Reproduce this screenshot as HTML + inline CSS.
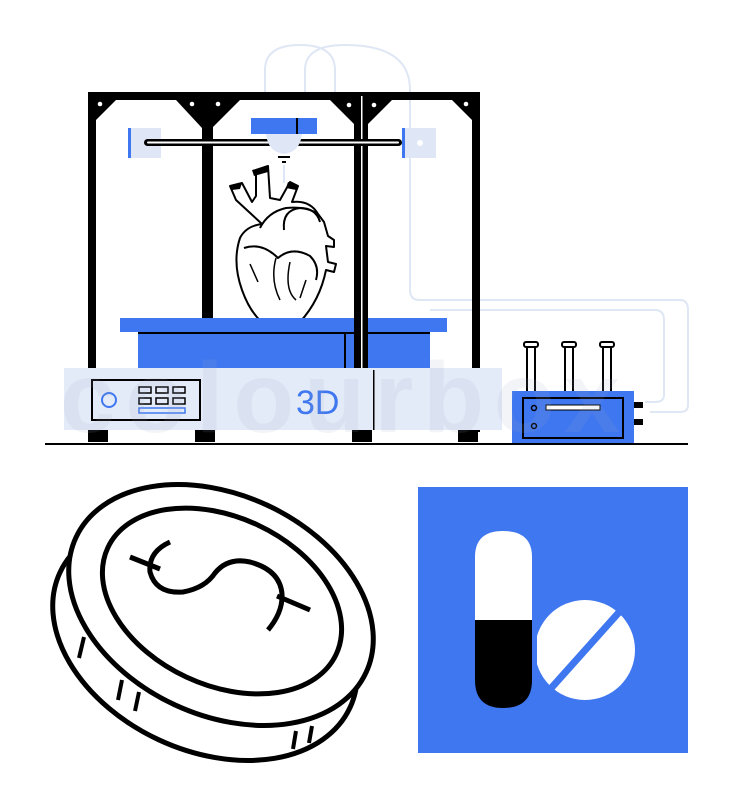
<!DOCTYPE html>
<html><head><meta charset="utf-8"><style>
html,body{margin:0;padding:0;background:#fff;width:735px;height:800px;overflow:hidden}
svg{display:block}
</style></head><body>
<svg width="735" height="800" viewBox="0 0 735 800" xmlns="http://www.w3.org/2000/svg">
<g fill="none" stroke="#dfe7f5" stroke-width="2">
<path d="M265 100 V70 Q265 45 300 45 Q335 45 335 70 V100"/>
<path d="M305 100 V70 Q305 45 345 45 Q410 45 410 90 V290 Q410 300 420 300 H680 Q688 300 688 310 V405 Q688 412 680 412 H650"/>
<path d="M430 310 H655 Q664 310 664 320 V395 Q664 402 655 402 H645"/>
</g>
<g fill="#000">
<rect x="88" y="92" width="392" height="8"/>
<rect x="88" y="92" width="8" height="340"/>
<rect x="472" y="92" width="8" height="340"/>
<rect x="202" y="100" width="11" height="230"/>
<rect x="354" y="92" width="14" height="280"/>
<polygon points="96,100 116,100 96,120"/>
<polygon points="472,100 452,100 472,120"/>
<polygon points="176,100 240,100 212,128 202,128"/>
<polygon points="330,100 354,100 354,124"/>
<polygon points="368,100 392,100 368,124"/>
</g>
<rect x="361" y="96" width="1.5" height="340" fill="#fff"/>
<g fill="#fff">
<circle cx="100" cy="104" r="2.3"/><circle cx="192" cy="104" r="2.3"/><circle cx="218" cy="104" r="2.3"/>
<circle cx="349" cy="105" r="2.3"/><circle cx="374" cy="105" r="2.3"/><circle cx="466" cy="104" r="2.3"/>
</g>
<rect x="128" y="128" width="33" height="30" fill="#dfe7f7"/>
<rect x="128" y="128" width="3" height="30" fill="#3f77f0"/>
<rect x="402" y="128" width="34" height="30" fill="#dfe7f7"/>
<rect x="402" y="128" width="3" height="30" fill="#3f77f0"/>
<circle cx="420" cy="143" r="3" fill="#fff"/>
<rect x="144" y="139" width="258" height="7" rx="3.5" fill="#000"/>
<rect x="147" y="141.5" width="252" height="2" rx="1" fill="#fff"/>
<rect x="251" y="118" width="66" height="16" fill="#3f77f0"/>
<rect x="296" y="118" width="2" height="16" fill="#000"/>
<path d="M266 134 H302 Q300 152 284 154 Q268 152 266 134Z" fill="#dfe7f7"/>
<rect x="278" y="156" width="12" height="2" fill="#000"/>
<rect x="282" y="161" width="4" height="2" fill="#000"/>
<rect x="283" y="165" width="2" height="18" fill="#dfe7f7"/>
<g fill="#fff" stroke="#000" stroke-width="2" stroke-linejoin="round">
<path d="M262 224 L236 200 L230 186 L242 183 L252 202 L256 196 L256 170 L268 166 L270 198 L280 200 L290 182 L298 186 L292 202 Q310 200 318 214 L324 222 L328 236 L334 240 L334 247 L326 246 L328 262 L336 264 L334 272 L326 270 Q320 300 300 322 Q286 337 270 328 Q252 318 242 290 Q232 262 240 238 Q246 226 262 224Z"/>
<path d="M260 228 Q268 212 286 208 Q306 206 318 214" fill="none"/>
<path d="M284 230 Q282 210 300 208 Q316 208 320 222" fill="none"/>
<path d="M244 248 Q262 242 278 258 Q292 246 310 256 Q320 266 316 280" fill="none"/>
<path d="M276 258 Q270 280 280 300 M290 262 Q284 290 296 300 M250 264 L258 282 M306 280 L300 298" fill="none" stroke-width="1.5"/>
</g>
<path d="M252 170 L268 166 L268 172 L254 176Z M288 182 L298 186 L296 190 L286 188Z M230 186 L242 183 L240 189 L232 190Z" fill="#000"/>
<rect x="120" y="318" width="327" height="14" fill="#3f77f0"/>
<rect x="138" y="332" width="292" height="38" fill="#3f77f0"/>
<rect x="138" y="332" width="292" height="2" fill="#000"/>
<rect x="344" y="332" width="2" height="38" fill="#000"/>
<rect x="354" y="318" width="14" height="60" fill="#000"/>
<rect x="361" y="318" width="1.5" height="60" fill="#fff"/>
<rect x="64" y="368" width="438" height="62" fill="#e4ebf8"/>
<rect x="373" y="370" width="1.5" height="60" fill="#000"/>
<rect x="92" y="380" width="108" height="40" fill="none" stroke="#000" stroke-width="2"/>
<circle cx="109" cy="400" r="7" fill="none" stroke="#3f77f0" stroke-width="2"/>
<g fill="none" stroke="#000" stroke-width="1.5">
<rect x="139" y="387" width="12" height="6"/><rect x="156" y="387" width="12" height="6"/><rect x="173" y="387" width="12" height="6"/>
<rect x="139" y="398" width="12" height="6"/><rect x="156" y="398" width="12" height="6"/><rect x="173" y="398" width="12" height="6"/>
</g>
<rect x="139" y="408" width="46" height="5" fill="none" stroke="#3f77f0" stroke-width="1.5"/>
<text x="296" y="414" font-family="Liberation Sans, sans-serif" font-size="34" fill="#3f77f0">3D</text>
<g fill="#000"><rect x="88" y="430" width="20" height="12"/><rect x="195" y="430" width="20" height="12"/><rect x="352" y="430" width="20" height="12"/><rect x="458" y="430" width="20" height="12"/></g>
<rect x="45" y="443" width="643" height="2" fill="#000"/>
<g fill="#fff" stroke="#000" stroke-width="2">
<rect x="527" y="345" width="8" height="48"/><rect x="565" y="345" width="8" height="48"/><rect x="603" y="345" width="8" height="48"/>
<rect x="524" y="342" width="14" height="5" rx="2"/><rect x="562" y="342" width="14" height="5" rx="2"/><rect x="600" y="342" width="14" height="5" rx="2"/>
</g>
<rect x="512" y="391" width="122" height="52" fill="#3f77f0"/>
<rect x="523" y="398" width="100" height="40" fill="none" stroke="#000" stroke-width="2"/>
<circle cx="534" cy="408" r="2.5" fill="none" stroke="#000" stroke-width="1.5"/>
<circle cx="534" cy="426" r="2.5" fill="none" stroke="#000" stroke-width="1.5"/>
<rect x="546" y="405" width="54" height="5" fill="#fff" stroke="#000" stroke-width="1"/>
<rect x="634" y="402" width="9" height="6" fill="#000"/><rect x="634" y="419" width="9" height="6" fill="#000"/>
<text x="60" y="432" font-family="Liberation Sans, sans-serif" font-weight="bold" font-size="100" fill="#9aa7c0" opacity="0.12" textLength="560">colourbox</text>
<g fill="#fff" stroke="#000" stroke-width="5" stroke-linejoin="round">
<ellipse cx="205" cy="640" rx="160" ry="110" transform="rotate(25 205 640)"/>
<ellipse cx="221" cy="605" rx="160" ry="110" transform="rotate(25 221 605)"/>
<ellipse cx="222" cy="601" rx="126" ry="84" transform="rotate(25 222 601)"/>
<path d="M170 542 Q148 552 150 572 Q156 594 183 592 Q205 588 215 573 Q228 557 250 562 Q280 570 282 594 Q283 612 268 630" fill="none"/>
<path d="M130 557 L160 569 M277 596 L310 610" fill="none"/>
<line x1="84" y1="637" x2="79" y2="658" stroke-width="4"/>
<line x1="122" y1="680" x2="118" y2="700" stroke-width="4"/>
<line x1="139" y1="692" x2="135" y2="711" stroke-width="4"/>
<line x1="296" y1="731" x2="293" y2="749" stroke-width="4"/>
<line x1="312" y1="726" x2="309" y2="743" stroke-width="4"/>
</g>
<rect x="418" y="487" width="270" height="266" fill="#3f77f0"/>
<circle cx="585" cy="650" r="50" fill="#fff"/>
<line x1="545" y1="695" x2="630" y2="600" stroke="#3f77f0" stroke-width="7"/>
<path d="M475 557 Q475 531 503 531 Q532 531 532 557 V620 H475Z" fill="#fff"/>
<path d="M475 620 H532 V680 Q532 708 503 708 Q475 708 475 680Z" fill="#000"/>
<rect x="532" y="600" width="5" height="80" fill="#3f77f0"/>
</svg>
</body></html>
